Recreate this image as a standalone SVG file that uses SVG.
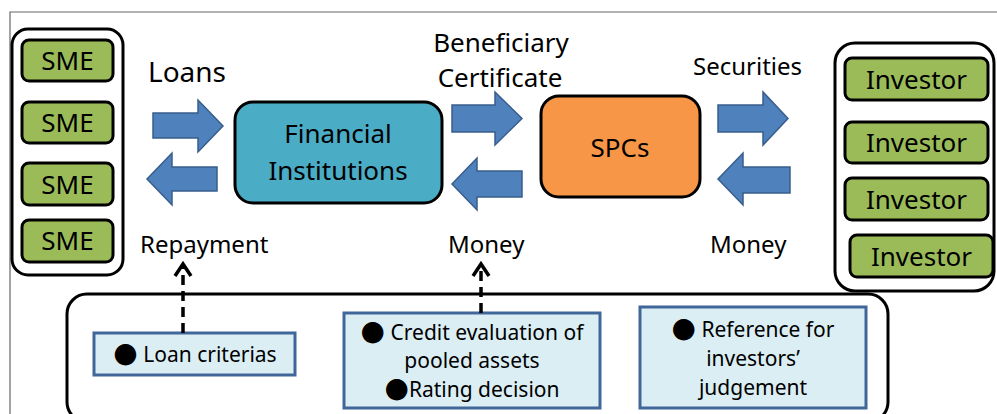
<svg xmlns="http://www.w3.org/2000/svg" width="997" height="414" viewBox="0 0 997 414">
<style>
.t{font-family:"Noto Sans","Open Sans","DejaVu Sans",sans-serif;fill:#000}
.cont{fill:none;stroke:#000;stroke-width:3}
.green{fill:#9BBB59;stroke:#000;stroke-width:3}
.arr{fill:#4F81BD;stroke:#385D8A;stroke-width:1.5}
.note{fill:#DBEEF4;stroke:#41669A;stroke-width:3}
.dash{stroke:#000;stroke-width:3.5;stroke-dasharray:10,6;fill:none}
.head{stroke:#000;stroke-width:3.5;fill:none}
</style>
<rect width="997" height="414" fill="#fff"/>
<path d="M10,414 V12 H997" fill="none" stroke="#666" stroke-width="1.2"/>

<g id="sme-group">
<rect class="cont" x="12" y="29" width="111" height="246" rx="16"/>
</g>
<g id="sme1"><rect class="green" x="22" y="40" width="91" height="41" rx="7"/><text class="t" x="67.5" y="70" font-size="26" text-anchor="middle">SME</text></g>
<g id="sme2"><rect class="green" x="22" y="102" width="91" height="41" rx="7"/><text class="t" x="67.5" y="132" font-size="26" text-anchor="middle">SME</text></g>
<g id="sme3"><rect class="green" x="22" y="163" width="91" height="42" rx="7"/><text class="t" x="67.5" y="194" font-size="26" text-anchor="middle">SME</text></g>
<g id="sme4"><rect class="green" x="22" y="220" width="91" height="42" rx="7"/><text class="t" x="67.5" y="250" font-size="26" text-anchor="middle">SME</text></g>

<g id="fi"><rect x="235" y="102" width="207" height="101" rx="18" fill="#4BACC6" stroke="#000" stroke-width="3"/>
<text class="t" x="338" y="143" font-size="26" text-anchor="middle">Financial</text>
<text class="t" x="338" y="180" font-size="26" text-anchor="middle">Institutions</text></g>

<g id="spc"><rect x="541" y="96" width="159" height="101" rx="18" fill="#F79646" stroke="#000" stroke-width="3"/>
<text class="t" x="620" y="157" font-size="26" text-anchor="middle">SPCs</text></g>

<g id="investor-group"><rect class="cont" x="835" y="43" width="159" height="248" rx="20"/></g>
<g id="inv1"><rect class="green" x="845" y="58" width="143" height="42" rx="7"/><text class="t" x="916.5" y="89" font-size="26" text-anchor="middle">Investor</text></g>
<g id="inv2"><rect class="green" x="845" y="122" width="143" height="41" rx="7"/><text class="t" x="916.5" y="152" font-size="26" text-anchor="middle">Investor</text></g>
<g id="inv3"><rect class="green" x="845" y="178" width="143" height="42" rx="7"/><text class="t" x="916.5" y="209" font-size="26" text-anchor="middle">Investor</text></g>
<g id="inv4"><rect class="green" x="850" y="235" width="143" height="42" rx="7"/><text class="t" x="921.5" y="266" font-size="26" text-anchor="middle">Investor</text></g>

<g id="bottom-panel"><rect class="cont" x="67" y="294" width="821" height="128" rx="20"/></g>
<g id="note-loan"><rect class="note" x="94" y="333" width="201" height="42"/>
<text class="t" x="195" y="362" font-size="21" text-anchor="middle"><tspan font-size="28">●</tspan> Loan criterias</text></g>
<g id="note-credit"><rect class="note" x="344" y="313" width="256" height="95"/>
<text class="t" x="472" y="340" font-size="21" text-anchor="middle"><tspan font-size="28">●</tspan> Credit evaluation of</text>
<text class="t" x="472" y="368" font-size="21" text-anchor="middle">pooled assets</text>
<text class="t" x="472" y="397" font-size="21" text-anchor="middle"><tspan font-size="28">●</tspan>Rating decision</text></g>
<g id="note-ref"><rect class="note" x="640" y="307" width="226" height="101"/>
<text class="t" x="753" y="337" font-size="21" text-anchor="middle"><tspan font-size="28">●</tspan> Reference for</text>
<text class="t" x="753" y="366" font-size="21" text-anchor="middle">investors’</text>
<text class="t" x="753" y="395" font-size="21" text-anchor="middle">judgement</text></g>

<g id="connectors">
<polygon class="arr" points="153,113 198,113 198,100 223,126 198,152 198,138 153,138"/>
<polygon class="arr" points="217,167 172,167 172,153 147,179 172,205 172,191 217,191"/>
<polygon class="arr" points="452,105 495,105 495,92 522,118.5 495,145 495,132 452,132"/>
<polygon class="arr" points="522,171 477,171 477,158 452,184 477,210 477,197 522,197"/>
<polygon class="arr" points="718,105 763,105 763,92 788,118.5 763,145 763,132 718,132"/>
<polygon class="arr" points="790,167 743,167 743,153 718,179 743,205 743,193 790,193"/>
<line class="dash" x1="183" y1="333" x2="183" y2="266"/>
<polyline class="head" points="175,276 183,264 191,276"/>
<line class="dash" x1="481" y1="313" x2="481" y2="266"/>
<polyline class="head" points="473,276 481,264 489,276"/>
</g>

<g id="labels">
<text class="t" x="148" y="82" font-size="28">Loans</text>
<text class="t" x="140" y="253" font-size="24">Repayment</text>
<text class="t" x="501" y="52" font-size="26" text-anchor="middle">Beneficiary</text>
<text class="t" x="500" y="87" font-size="26" text-anchor="middle">Certificate</text>
<text class="t" x="693" y="75" font-size="24">Securities</text>
<text class="t" x="448" y="253" font-size="24">Money</text>
<text class="t" x="710" y="253" font-size="24">Money</text>
</g>
</svg>
